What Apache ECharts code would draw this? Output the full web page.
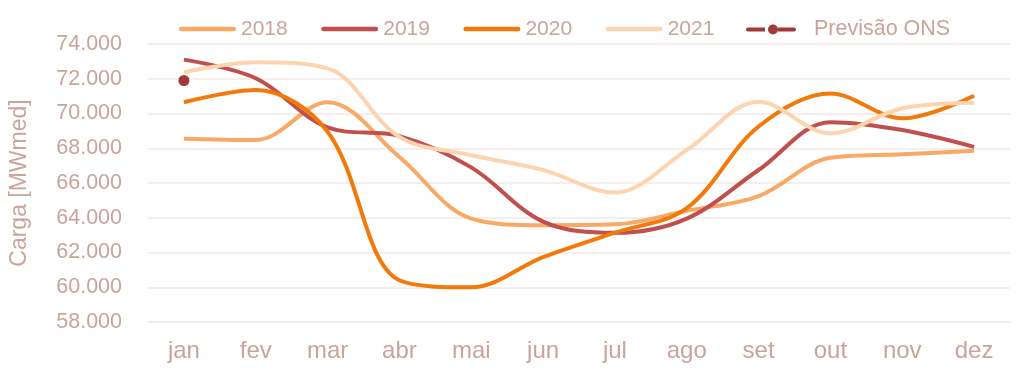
<!DOCTYPE html>
<html>
<head>
<meta charset="utf-8">
<script src="https://cdn.jsdelivr.net/npm/echarts@6/dist/echarts.min.js"></script>
<style>
html,body{margin:0;padding:0;background:#fff;}
#c{width:1024px;height:372px;}
</style>
</head>
<body>
<div id="c"></div>
<script>
const months = ['jan','fev','mar','abr','mai','jun','jul','ago','set','out','nov','dez'];
const y2018 = [68550, 68470, 70650, 67500, 63950, 63570, 63620, 64400, 65250, 67450, 67650, 67850];
const y2019 = [73100, 72030, 69200, 68700, 66900, 63780, 63130, 63950, 66750, 69500, 69050, 68080];
const y2020 = [70650, 71350, 68950, 60400, 60000, 61730, 63140, 64550, 69250, 71150, 69720, 71020];
const y2021 = [72370, 72950, 72600, 68650, 67600, 66750, 65450, 67900, 70680, 68860, 70300, 70620];
const previsao = [71900, null, null, null, null, null, null, null, null, null, null, null];
const yTicks = {min: 58000, max: 74000, interval: 2000};

const txt = '#C9A49B';
const font = '"Liberation Sans", Arial, sans-serif';
function fmt(v){ return String(v/1000) + '.000'; }

const lineIcon = 'path://M2.25,0 L54.75,0 A2.25,2.25 0 0 1 54.75,4.5 L2.25,4.5 A2.25,2.25 0 0 1 2.25,0 Z';
const onsIcon = 'path://M2,3 L19,3 L19,7 L2,7 A2,2 0 0 1 2,3 Z M22,5 A5,5 0 1 1 32,5 A5,5 0 1 1 22,5 Z M32,3 L48,3 A2,2 0 0 1 48,7 L32,7 Z';

const chart = echarts.init(document.getElementById('c'), null, {renderer:'canvas'});
function line(name, data, color){
  return {name, type:'line', data, smooth:0.35, symbol:'none',
    lineStyle:{color, width:4}, itemStyle:{color}, z:2};
}
chart.setOption({
  animation:false,
  backgroundColor:'#fff',
  textStyle:{fontFamily:font, color:txt},
  legend:[{
    top:18.5, left:179, padding:0, itemGap:33.5, itemWidth:57, itemHeight:12, symbolKeepAspect:true,
    textStyle:{color:txt, fontSize:21, fontFamily:font},
    data:[{name:'2018', icon:lineIcon},{name:'2019', icon:lineIcon},{name:'2020', icon:lineIcon},{name:'2021', icon:lineIcon}]
  },{
    top:18.5, left:746, padding:0, itemWidth:50, itemHeight:10, symbolKeepAspect:true,
    textStyle:{color:txt, fontSize:21.5, fontFamily:font, padding:[0,0,0,13]},
    data:[{name:'Previsão ONS', icon:onsIcon}]
  }],
  grid:{left:147, right:14, top:44, bottom:50},
  xAxis:{
    type:'category', data:months, boundaryGap:true,
    axisLine:{lineStyle:{color:'#F2E9E7', width:1.5}},
    axisTick:{show:false},
    axisLabel:{color:txt, fontSize:24, fontFamily:font, margin:17}
  },
  yAxis:{
    type:'value', min:yTicks.min, max:yTicks.max, interval:yTicks.interval,
    name:'Carga [MWmed]', nameLocation:'middle', nameGap:117, nameRotate:90,
    nameTextStyle:{color:txt, fontSize:23, fontFamily:font},
    axisLine:{show:false}, axisTick:{show:false},
    splitLine:{lineStyle:{color:'#F2E9E7', width:1.5}},
    axisLabel:{color:txt, fontSize:21.5, fontFamily:font, margin:26, formatter:fmt}
  },
  series:[
    line('2018', y2018, '#F9A865'),
    line('2019', y2019, '#C0504D'),
    line('2020', y2020, '#F27A0A'),
    line('2021', y2021, '#FDD4B0'),
    {name:'Previsão ONS', type:'line', data:previsao, symbol:'circle', symbolSize:11,
     showAllSymbol:true, lineStyle:{color:'#A03A38', width:4}, itemStyle:{color:'#A03A38'}, z:5}
  ]
});
</script>
</body>
</html>
